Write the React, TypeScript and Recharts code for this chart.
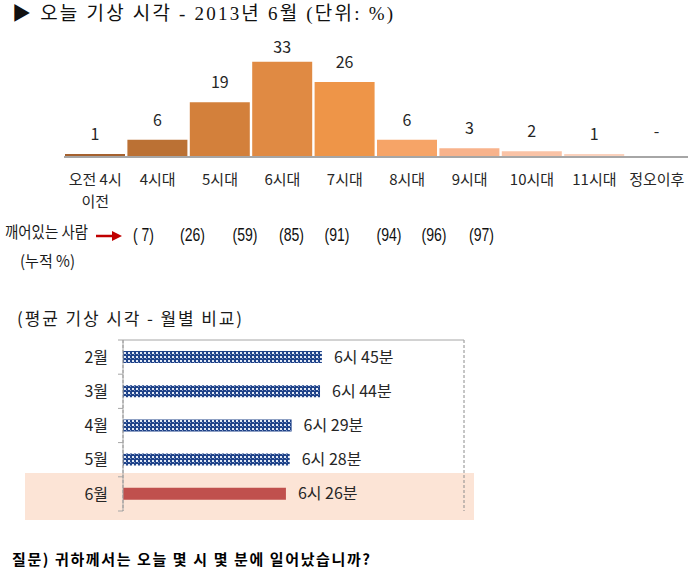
import React from "react";
import { BarChart, Bar, XAxis, YAxis, CartesianGrid, LabelList, Cell } from "recharts";

const KR = "'Noto Sans CJK KR', 'Noto Sans', sans-serif";

// 오늘 기상 시각 (2013년 6월, %)
const slots = ["오전 4시\n이전", "4시대", "5시대", "6시대", "7시대", "8시대", "9시대", "10시대", "11시대", "정오이후"];
const shares = [1, 6, 19, 33, 26, 6, 3, 2, 1, 0];
const slotColors = ["#a5612e", "#bb7134", "#d3803b", "#e08a43", "#ee9548", "#f6a467", "#f8b38c", "#fac3a6", "#fbd2bd", "#ffffff"];
const awakeCum = [7, 26, 59, 85, 91, 94, 96, 97];
const cumX = [143.5, 192.5, 245, 291.5, 337, 389, 434, 481.5];

// 평균 기상 시각 - 월별
const months = ["2월", "3월", "4월", "5월", "6월"];
const wakeHour = [6, 6, 6, 6, 6];
const wakeMin = [45, 44, 29, 28, 26];
const hourTicks = [5, 6, 7, 8];

const topData = slots.map((s, i) => ({ slot: s, share: shares[i] }));
const monthData = months.map((m, i) => ({
  month: m,
  time: wakeHour[i] + wakeMin[i] / 60,
  label: `${wakeHour[i]}시 ${wakeMin[i]}분`,
}));

function SlotTick({ x, y, payload }: any) {
  const lines = String(payload.value).split("\n");
  return (
    <text x={x} y={y} textAnchor="middle" fontSize={15} fill="#262626" fontFamily={KR}>
      {lines.map((l, i) => (
        <tspan key={i} x={x} dy={i === 0 ? 28 : 22}>{l}</tspan>
      ))}
    </text>
  );
}

function ShareLabel(props: any) {
  const { x, y, width, value } = props;
  const by = value === 0 ? Number(y) - 19 : Math.max(Number(y) - 14, 53);
  return (
    <text x={Number(x) + Number(width) / 2} y={by} textAnchor="middle" fontSize={16} fill="#262626" fontFamily={KR}>
      {value === 0 ? "-" : value}
    </text>
  );
}

function MonthTick({ x, y, payload, index }: any) {
  const half = payload && payload.offset ? payload.offset : 17;
  return (
    <g>
      <line x1={x - 5} x2={x} y1={y + half} y2={y + half} stroke="#a6a6a6" />
      {index === 0 && <line x1={x - 5} x2={x} y1={y - half} y2={y - half} stroke="#a6a6a6" />}
      <text x={x - 15} y={y} dy="0.35em" textAnchor="end" fontSize={16} fill="#262626" fontFamily={KR}>
        {payload.value}
      </text>
    </g>
  );
}

export default function App() {
  return (
    <div style={{ position: "absolute", left: 0, top: 0, width: 700, height: 570, background: "#fff", overflow: "hidden" }}>
      <div style={{ position: "absolute", left: 25, top: 473, width: 449, height: 47, background: "#fce4d6" }} />

      <div style={{ position: "absolute", left: 0, top: 0 }}>
        <BarChart width={700} height={217} data={topData} margin={{ top: 56, right: 12, bottom: 0, left: 64 }} barCategoryGap={1}>
          <YAxis hide domain={[0, 35]} />
          <Bar dataKey="share" minPointSize={1} isAnimationActive={false}>
            {topData.map((d, i) => (
              <Cell key={d.slot} fill={slotColors[i]} />
            ))}
            <LabelList dataKey="share" content={<ShareLabel />} />
          </Bar>
          <XAxis
            dataKey="slot"
            interval={0}
            tickLine={false}
            tickSize={0}
            tickMargin={0}
            height={60}
            axisLine={{ stroke: "#a6a6a6", strokeWidth: 2 }}
            tick={<SlotTick />}
          />
        </BarChart>
      </div>

      <div style={{ position: "absolute", left: 0, top: 300 }}>
        <BarChart width={500} height={230} data={monthData} layout="vertical" margin={{ top: 5, right: 36, bottom: 19, left: 0 }}>
          <defs>
            <pattern id="chk" width="4" height="4" patternUnits="userSpaceOnUse">
              <rect width="4" height="4" fill="#1f4389" />
              <rect x="0" y="0" width="2" height="2" fill="#e4eaf5" />
              <rect x="2" y="2" width="1" height="1" fill="#7d94c4" />
            </pattern>
          </defs>
          <CartesianGrid horizontal={false} stroke="#8c8c8c" strokeDasharray="3 2" />
          <XAxis
            type="number"
            orientation="top"
            domain={[5, 8]}
            ticks={hourTicks}
            tick={false}
            tickSize={5}
            height={35}
            axisLine={{ stroke: "#a6a6a6" }}
            tickLine={{ stroke: "#a6a6a6" }}
          />
          <YAxis
            type="category"
            dataKey="month"
            width={123}
            tickLine={false}
            tickSize={0}
            tickMargin={0}
            axisLine={{ stroke: "#a6a6a6" }}
            tick={<MonthTick />}
          />
          <Bar dataKey="time" barSize={12} isAnimationActive={false}>
            {monthData.map((d) => (
              <Cell key={d.month} fill={d.month === "6월" ? "#c0504d" : "url(#chk)"} />
            ))}
            <LabelList dataKey="label" position="right" offset={12} fontSize={16} fill="#262626" fontFamily={KR} />
          </Bar>
        </BarChart>
      </div>

      <svg width={700} height={570} style={{ position: "absolute", left: 0, top: 0, pointerEvents: "none" }}>
        <text x={12} y={20} fontSize={19} fill="#111" fontFamily="'Liberation Serif', 'Noto Sans CJK KR', serif" textLength={381} lengthAdjust="spacing">
          ▶ 오늘 기상 시각 - 2013년 6월 (단위: %)
        </text>

        <text x={5} y={238} fontSize={16} fill="#1a1a1a" fontFamily={KR} textLength={83} lengthAdjust="spacingAndGlyphs">
          깨어있는 사람
        </text>
        <line x1={96} x2={113} y1={236} y2={236} stroke="#c00000" strokeWidth={2.5} />
        <polygon points="112,231 122,236 112,241" fill="#c00000" />
        <text x={20} y={267} fontSize={16} fill="#1a1a1a" fontFamily={KR} textLength={55} lengthAdjust="spacingAndGlyphs">
          (누적 %)
        </text>
        {awakeCum.map((v, i) => (
          <text
            key={i}
            x={cumX[i] - (v < 10 ? 10.5 : 12.5)}
            y={241}
            fontSize={18}
            fill="#111"
            fontFamily="'Liberation Sans', sans-serif"
            textLength={v < 10 ? 21 : 25}
            lengthAdjust="spacingAndGlyphs"
          >
            {`(${v < 10 ? " " : ""}${v})`}
          </text>
        ))}

        <text x={17} y={325} fontSize={17} fill="#1a1a1a" fontFamily={KR} textLength={225} lengthAdjust="spacing">
          (평균 기상 시각 - 월별 비교)
        </text>

        <text x={12} y={565} fontSize={15} fontWeight="bold" fill="#000" fontFamily={KR} textLength={358} lengthAdjust="spacing">
          질문) 귀하께서는 오늘 몇 시 몇 분에 일어났습니까?
        </text>
      </svg>
    </div>
  );
}
